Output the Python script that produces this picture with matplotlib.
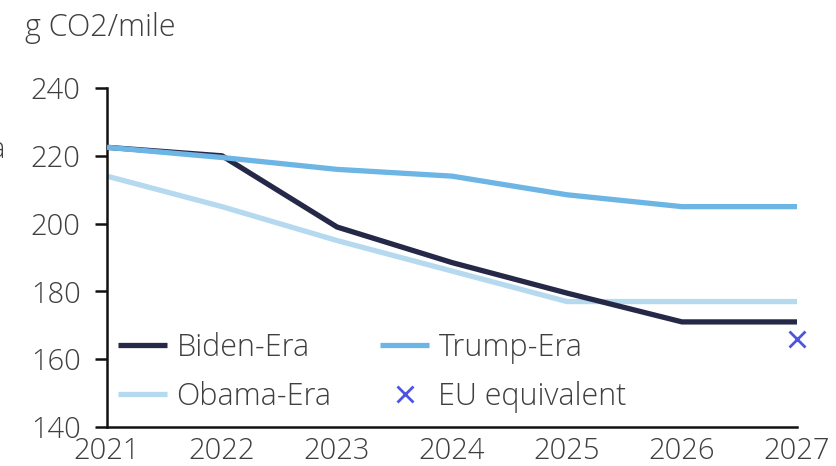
import matplotlib
matplotlib.use("Agg")
import matplotlib.pyplot as plt

years = [2021, 2022, 2023, 2024, 2025, 2026, 2027]
biden = [222.5, 220, 199, 188.5, 179.5, 171, 171]
trump = [222.5, 219.5, 216, 214, 208.5, 205, 205]
obama = [214, 205, 195, 186, 177, 177, 177]
eu_year = [2027]
eu_value = [166]
yticks = [140, 160, 180, 200, 220, 240]

plt.rcParams['font.family'] = ['Open Sans', 'DejaVu Sans']
plt.rcParams['font.weight'] = 'light'
txt = '#3f3f3f'

fig = plt.figure(figsize=(8.36, 4.66), dpi=100)
ax = fig.add_axes([107/836, 1-427/466, (797-107)/836, (427-88)/466])

ax.plot(years, obama, color='#b5d9ef', lw=3.8, solid_capstyle='butt', label='Obama-Era', zorder=2)
ax.plot(years, biden, color='#252847', lw=3.8, solid_capstyle='butt', label='Biden-Era', zorder=3)
ax.plot(years, trump, color='#6db5e5', lw=3.8, solid_capstyle='butt', label='Trump-Era', zorder=4)
ax.plot(eu_year, eu_value, linestyle='none', marker='x', color='#4d54df', ms=11, mew=2,
        label='EU equivalent', zorder=5, clip_on=False)

ax.set_xlim(2021, 2027)
ax.set_ylim(140, 240)
ax.set_yticks(yticks)
ax.set_xticks(years)
for s in ['top', 'right']:
    ax.spines[s].set_visible(False)
for s in ['left', 'bottom']:
    ax.spines[s].set_linewidth(1.8)
    ax.spines[s].set_color('#111111')
ax.tick_params(axis='y', length=9, width=1.8, color='#111111', labelsize=21, labelcolor=txt, pad=10)
ax.tick_params(axis='x', length=0, labelsize=21, labelcolor=txt, pad=7)

handles, labels = ax.get_legend_handles_labels()
order = ['Biden-Era', 'Obama-Era', 'Trump-Era', 'EU equivalent']
hmap = dict(zip(labels, handles))
leg = ax.legend([hmap[l] for l in order], order, ncol=2, loc='lower left',
                bbox_to_anchor=(-0.01, -0.012), frameon=False, fontsize=22,
                handlelength=1.6, handletextpad=0.3, columnspacing=1.6,
                labelspacing=0.55, borderaxespad=0.2)
for t in leg.get_texts():
    t.set_color(txt)

fig.text(25/836, 1-28/466, 'g CO2/mile', fontsize=22, color=txt, va='center', ha='left')
fig.text(-10/836, 1-150/466, 'a', fontsize=21, color=txt, va='center', ha='left')

fig.savefig('out.png', dpi=100)
